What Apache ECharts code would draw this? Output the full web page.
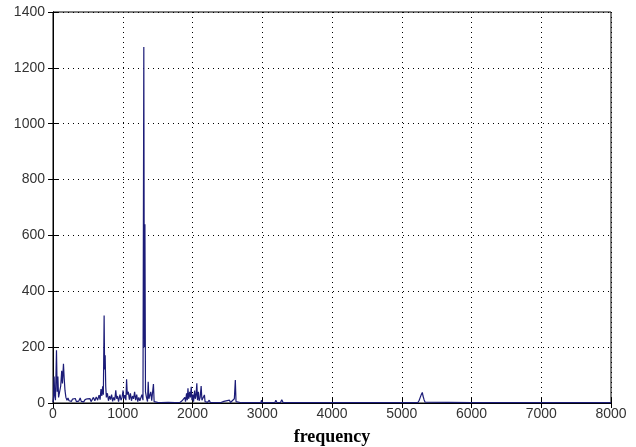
<!DOCTYPE html>
<html>
<head>
<meta charset="utf-8">
<script src="https://cdn.jsdelivr.net/npm/echarts@6/dist/echarts.min.js"></script>
<style>
  html, body { margin: 0; padding: 0; background: #fff; }
  #chart { width: 636px; height: 447px; }
</style>
</head>
<body>
<div id="chart"></div>
<script>
// spectrum: frequency (Hz) and magnitude
var freq = [0, 8, 16, 24, 35, 50, 60, 70, 80, 95, 110, 125, 135, 150, 160, 172, 185, 200, 215, 230,
    250, 265, 280, 300, 320, 335, 350, 370, 390, 405, 420, 440, 460, 475, 490, 510, 530, 545, 560, 580,
    600, 620, 640, 660, 675, 688, 700, 712, 722, 733, 740, 748, 756, 765, 780, 795, 810, 825, 840, 855,
    870, 885, 900, 912, 925, 940, 960, 975, 990, 1005, 1015, 1030, 1045, 1055, 1065, 1080, 1095, 1110, 1125, 1140,
    1155, 1170, 1185, 1200, 1215, 1230, 1245, 1260, 1275, 1290, 1302, 1310, 1318, 1326, 1340, 1355, 1365, 1375, 1390, 1402,
    1415, 1428, 1440, 1450, 1470, 1500, 1550, 1650, 1750, 1820, 1850, 1870, 1890, 1900, 1915, 1925, 1935, 1945, 1960, 1970,
    1982, 1992, 2005, 2015, 2030, 2040, 2050, 2062, 2072, 2085, 2095, 2110, 2124, 2135, 2150, 2171, 2180, 2200, 2215, 2240,
    2255, 2300, 2400, 2450, 2465, 2530, 2545, 2600, 2614, 2624, 2640, 2700, 2980, 2990, 3000, 3180, 3195, 3210, 3260, 3280,
    3300, 3500, 3990, 4000, 4010, 4580, 4590, 4600, 5230, 5250, 5265, 5280, 5295, 5305, 5320, 5335, 5360, 6000, 8000];
var amp = [3, 20, 95, 30, 10, 189, 40, 95, 20, 15, 60, 115, 70, 140, 90, 45, 20, 10, 18, 8,
    15, 6, 14, 9, 16, 5, 12, 7, 18, 6, 10, 4, 12, 7, 15, 8, 16, 5, 12, 20,
    8, 22, 10, 28, 12, 50, 25, 60, 30, 313, 120, 171, 60, 20, 35, 8, 25, 12, 30, 6,
    20, 10, 45, 15, 25, 5, 30, 10, 20, 45, 15, 28, 10, 85, 30, 40, 12, 35, 8, 25,
    15, 40, 10, 30, 5, 20, 8, 15, 30, 10, 1275, 200, 640, 40, 20, 5, 76, 15, 10, 40,
    8, 12, 68, 5, 3, 2, 1, 2, 1, 2, 8, 3, 20, 5, 35, 10, 53, 15, 40, 20,
    58, 10, 30, 5, 45, 15, 25, 71, 10, 40, 8, 20, 61, 10, 15, 29, 5, 8, 2, 10,
    2, 1, 1, 6, 1, 10, 2, 15, 82, 5, 1, 1, 1, 10, 1, 1, 10, 2, 1, 12,
    1, 1, 1, 8, 1, 1, 6, 1, 1, 10, 20, 30, 38, 25, 12, 3, 1, 1, 1];

var xTicks = [0, 1000, 2000, 3000, 4000, 5000, 6000, 7000, 8000];
var yTicks = [0, 200, 400, 600, 800, 1000, 1200, 1400];

var points = [];
for (var i = 0; i < freq.length; i++) {
    points.push([freq[i], amp[i]]);
}

var labelFont = {
    color: '#333', fontFamily: 'Liberation Sans, Arial, sans-serif', fontSize: 14,
    formatter: function (v) { return String(v); }
};
var dotted = { show: true, lineStyle: { color: '#000', type: [1, 4], width: 1 } };

var myChart = echarts.init(document.getElementById('chart'));
var option = {
    animation: false,
    backgroundColor: '#fff',
    grid: {
        left: 53, right: 25, top: 12, bottom: 44,
        outerBoundsMode: 'none',
        show: true, borderColor: '#000', borderWidth: 1
    },
    xAxis: [{
        type: 'value',
        min: xTicks[0], max: xTicks[xTicks.length - 1], interval: 1000,
        name: 'frequency',
        nameLocation: 'middle',
        nameGap: 25,
        nameTextStyle: { fontFamily: 'Liberation Serif, Times New Roman, serif', fontWeight: 'bold', fontSize: 18, color: '#000' },
        axisLine: { show: true, lineStyle: { color: '#000' } },
        axisTick: { show: true, inside: true, length: 5, lineStyle: { color: '#000' } },
        axisLabel: Object.assign({ margin: 4 }, labelFont),
        splitLine: dotted
    }, {
        type: 'value', position: 'top',
        min: xTicks[0], max: xTicks[xTicks.length - 1], interval: 1000,
        axisLine: { show: true, lineStyle: { color: '#000' } },
        axisTick: { show: true, inside: true, length: 5, lineStyle: { color: '#000' } },
        axisLabel: { show: false },
        splitLine: { show: false }
    }],
    yAxis: [{
        type: 'value',
        min: yTicks[0], max: yTicks[yTicks.length - 1], interval: 200,
        axisLine: { show: true, lineStyle: { color: '#000' } },
        axisTick: { show: true, inside: true, length: 5, lineStyle: { color: '#000' } },
        axisLabel: Object.assign({ margin: 8 }, labelFont),
        splitLine: dotted
    }, {
        type: 'value', position: 'right',
        min: yTicks[0], max: yTicks[yTicks.length - 1], interval: 200,
        axisLine: { show: true, lineStyle: { color: '#000' } },
        axisTick: { show: true, inside: true, length: 5, lineStyle: { color: '#000' } },
        axisLabel: { show: false },
        splitLine: { show: false }
    }],
    series: [{
        type: 'line',
        data: points,
        showSymbol: false,
        lineStyle: { color: '#1c1c78', width: 1.2 },
        z: 3
    }]
};
myChart.setOption(option);
</script>
</body>
</html>
